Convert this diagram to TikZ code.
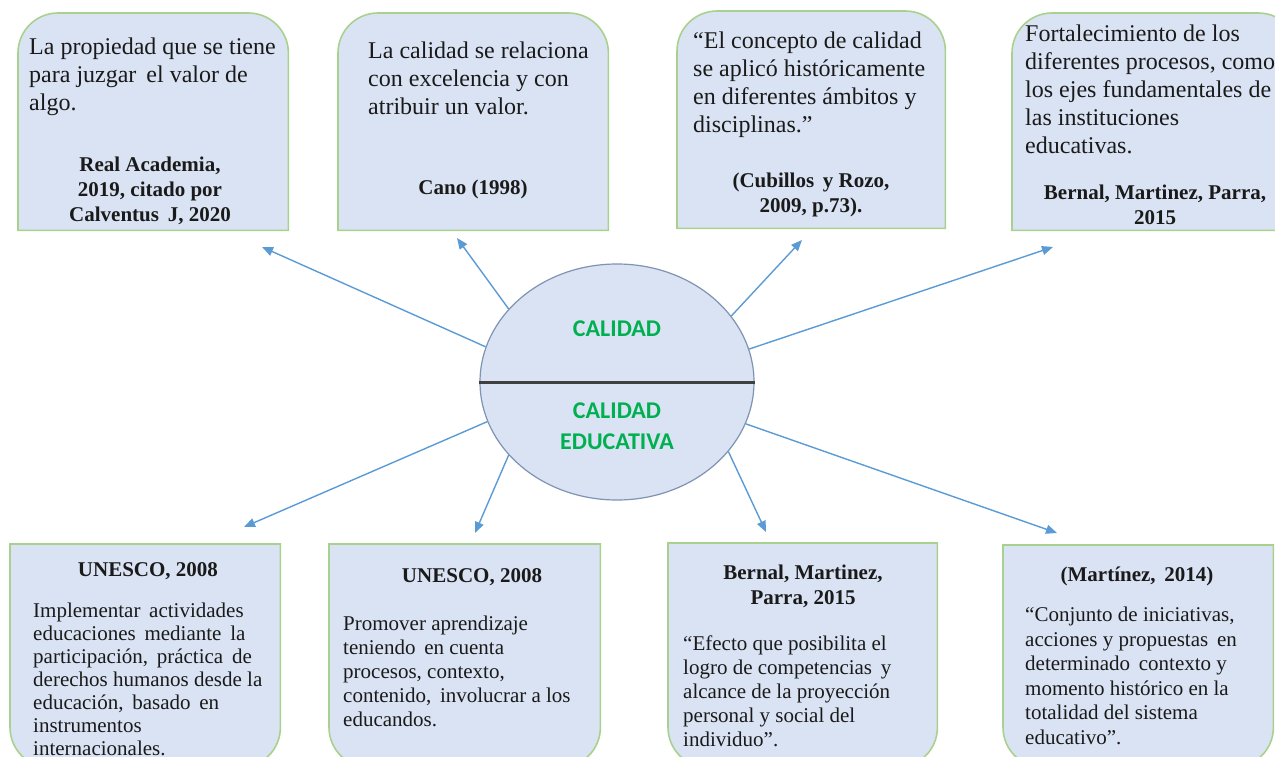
\documentclass[tikz,border=0pt]{standalone}
\usepackage{fontspec}
\setmainfont{Liberation Serif}
\newfontfamily\calibri{Carlito}
\usetikzlibrary{arrows.meta,positioning,backgrounds,shapes.geometric}

\definecolor{fondo}{HTML}{DAE3F3}
\definecolor{bordeverde}{HTML}{A9D18E}
\definecolor{azul}{HTML}{5B9BD5}
\definecolor{verde}{HTML}{00B050}
\definecolor{contorno}{HTML}{7F93B2}
\definecolor{separador}{HTML}{404040}
\definecolor{texto}{HTML}{1A1A1A}

\begin{document}
\begin{tikzpicture}[x=1pt, y=-1pt,
  caja/.style={rectangle, inner sep=0pt, anchor=north west, minimum width=270pt, minimum height=217pt},
  cajab/.style={caja, minimum height=223pt},
  borde/.style={draw=bordeverde, line width=1.6pt, fill=fondo},
  cuerpo/.style={anchor=north west, inner sep=0pt, align=left, text=texto, font=\fontsize{24}{28}\selectfont},
  cuerpob/.style={cuerpo, font=\fontsize{21}{24}\selectfont},
  cita/.style={anchor=north, inner sep=0pt, align=center, text=texto, font=\bfseries\fontsize{21}{25}\selectfont},
  titulo/.style={text=verde, align=center, font=\calibri\bfseries\fontsize{24}{31}\selectfont},
  flecha/.style={draw=azul, line width=1.4pt, -{Triangle[length=11pt, width=9pt]}}
]

% The picture is drawn in pixels (y down), and clipped to the page
\useasboundingbox (0,0) rectangle (1275,757);
\clip (0,0) rectangle (1275,757);

% Boxes above
\node[caja] (c1) at (18,13) {};
\node[caja] (c2) at (338,13) {};
\node[caja, minimum width=268pt] (c3) at (677,11) {};
\node[caja, minimum width=286pt] (c4) at (1012,13) {};

% Boxes below
\node[cajab] (c5) at (10,544) {};
\node[cajab, minimum width=271pt] (c6) at (329,544) {};
\node[cajab, minimum width=269pt, minimum height=224pt] (c7) at (668,543) {};
\node[cajab, minimum height=222pt] (c8) at (1003,545) {};

\begin{scope}[on background layer]
\foreach \c in {c1,c2,c3,c4}
  \draw[borde] (\c.south west) -- ([yshift=-40pt]\c.north west)
    arc[start angle=180, end angle=90, radius=40pt] -- ([xshift=-40pt]\c.north east)
    arc[start angle=90, end angle=0, radius=40pt] -- (\c.south east) -- cycle;
\foreach \c in {c5,c6,c7,c8}
  \draw[borde] (\c.north west) -- (\c.north east) -- ([yshift=40pt]\c.south east)
    arc[start angle=0, end angle=-90, radius=40pt] -- ([xshift=40pt]\c.south west)
    arc[start angle=270, end angle=180, radius=40pt] -- cycle;
\end{scope}

% Texts above
\node[cuerpo] (t1) at (29,38) {La propiedad que se tiene\\para juzgar\, el valor de\\algo.};
\node[cita] (r1) at (150,157) {Real Academia,\\2019, citado por\\Calventus\, J, 2020};

\node[cuerpo] (t2) at (368,42) {La calidad se relaciona\\con excelencia y con\\atribuir un valor.};
\node[cita] (r2) at (473,180) {Cano (1998)};

\node[cuerpo] (t3) at (693,32) {``El concepto de calidad\\se aplicó históricamente\\en diferentes ámbitos y\\disciplinas.''};
\node[cita] (r3) at (811,173) {(Cubillos\, y Rozo,\\2009, p.73).};

\node[cuerpo] (t4) at (1025,25) {Fortalecimiento de los\\diferentes procesos, como\\los ejes fundamentales de\\las instituciones\\educativas.};
\node[cita] (r4) at (1155,185) {Bernal, Martinez, Parra,\\2015};

% Texts below
\node[cita] (r5) at (148,562) {UNESCO, 2008};
\node[cuerpob, font=\fontsize{21}{23}\selectfont] (t5) at (33,603) {Implementar\, actividades\\educaciones\, mediante\, la\\participación,\, práctica\, de\\derechos humanos desde la\\educación,\, basado\, en\\instrumentos\\internacionales.};

\node[cita] (r6) at (472,568) {UNESCO, 2008};
\node[cuerpob] (t6) at (343,616) {Promover aprendizaje\\teniendo\, en cuenta\\procesos, contexto,\\contenido,\, involucrar a los\\educandos.};

\node[cita] (r7) at (803,565) {Bernal, Martinez,\\Parra, 2015};
\node[cuerpob] (t7) at (683,636) {``Efecto que posibilita el\\logro de competencias\, y\\alcance de la proyección\\personal y social del\\individuo''.};

\node[cita] (r8) at (1137,567) {(Martínez,\, 2014)};
\node[cuerpob, font=\fontsize{21}{24.5}\selectfont] (t8) at (1025,607) {``Conjunto de iniciativas,\\acciones y propuestas\, en\\determinado\, contexto y\\momento histórico en la\\totalidad del sistema\\educativo''.};

% Centre
\node[ellipse, draw=contorno, line width=1.2pt, fill=fondo, minimum width=274pt, minimum height=236pt, inner sep=0pt] (calidad) at (617,382) {};
\draw[separador, line width=3pt] (calidad.west) -- (calidad.east);
\node[titulo] (cal) at (617,329) {CALIDAD};
\node[titulo] (caled) at (617,426.5) {CALIDAD\\EDUCATIVA};

% Arrows
\coordinate (p1) at (262,247);
\coordinate (p2) at (457,238);
\coordinate (p3) at (802,240);
\coordinate (p4) at (1053,247);
\coordinate (p5) at (244,527);
\coordinate (p6) at (475,533);
\coordinate (p7) at (766,532);
\coordinate (p8) at (1057,533);

\draw[flecha] (calidad.165) -- (p1);
\draw[flecha] (calidad.146) -- (p2);
\draw[flecha] (calidad.30) -- (p3);
\draw[flecha] (calidad.14) -- (p4);
\draw[flecha] (calidad.197) -- (p5);
\draw[flecha] (calidad.214) -- (p6);
\draw[flecha] (calidad.328) -- (p7);
\draw[flecha] (calidad.342) -- (p8);

\end{tikzpicture}
\end{document}
